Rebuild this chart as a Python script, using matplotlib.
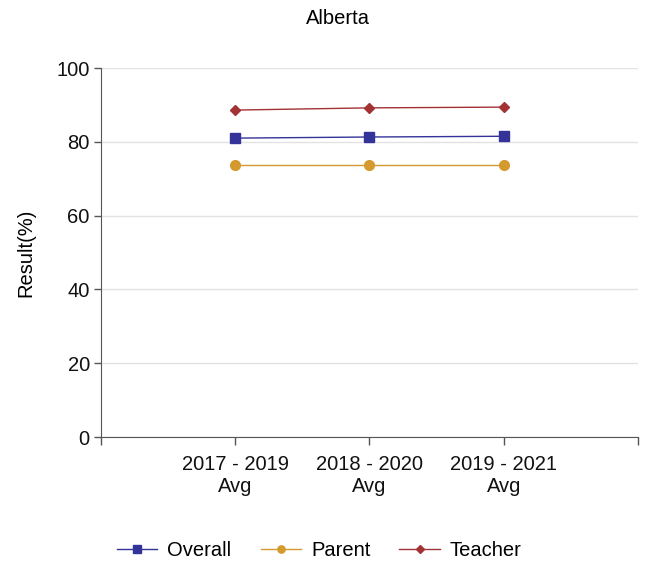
import numpy as np
import matplotlib.pyplot as plt

plt.rcParams['font.family'] = ['Liberation Sans', 'DejaVu Sans']

# datos
periodos = ["2017 - 2019\nAvg", "2018 - 2020\nAvg", "2019 - 2021\nAvg"]
overall = [81.0, 81.3, 81.5]
parent = [73.6, 73.6, 73.6]
teacher = [88.6, 89.2, 89.4]

fig = plt.figure(figsize=(6.49, 5.63), dpi=100)
ax = fig.add_axes([0.1556, 0.2238, 0.8274, 0.6554])

x = np.arange(len(periodos))
ax.plot(x, overall, '-s', color='#333399', lw=1, ms=7, label='Overall')
ax.plot(x, parent, '-o', color='#D49A2E', lw=1, ms=7, label='Parent')
ax.plot(x, teacher, '-D', color='#A33235', lw=1, ms=5, label='Teacher')

ax.set_xlim(-1, 3)
ax.set_ylim(0, 100)
ax.set_yticks([0, 20, 40, 60, 80, 100])
ax.set_xticks([-1, 0, 1, 2, 3])
ax.set_xticklabels([''] + periodos + [''])
ax.tick_params(axis='x', labelsize=14.5, colors='#555555', labelcolor='#111111',
               length=6, width=1, pad=7)
ax.tick_params(axis='y', labelsize=14.5, colors='#555555', labelcolor='#111111',
               length=5, width=1, pad=3)
ax.grid(axis='y', color='#e2e2e2', lw=1)
ax.set_axisbelow(True)
for s in ['top', 'right']:
    ax.spines[s].set_visible(False)
for s in ['left', 'bottom']:
    ax.spines[s].set_color('#555555')
ax.set_ylabel('Result(%)', fontsize=14.5, labelpad=15)
fig.text(0.521, 0.968, 'Alberta', ha='center', va='center', fontsize=14.5)

fig.legend(loc='center', bbox_to_anchor=(0.492, 0.022), ncol=3, frameon=False,
           fontsize=14.5, handlelength=2.0, handletextpad=0.5,
           columnspacing=1.45, markerscale=0.75)

fig.savefig('out.png', dpi=100)
